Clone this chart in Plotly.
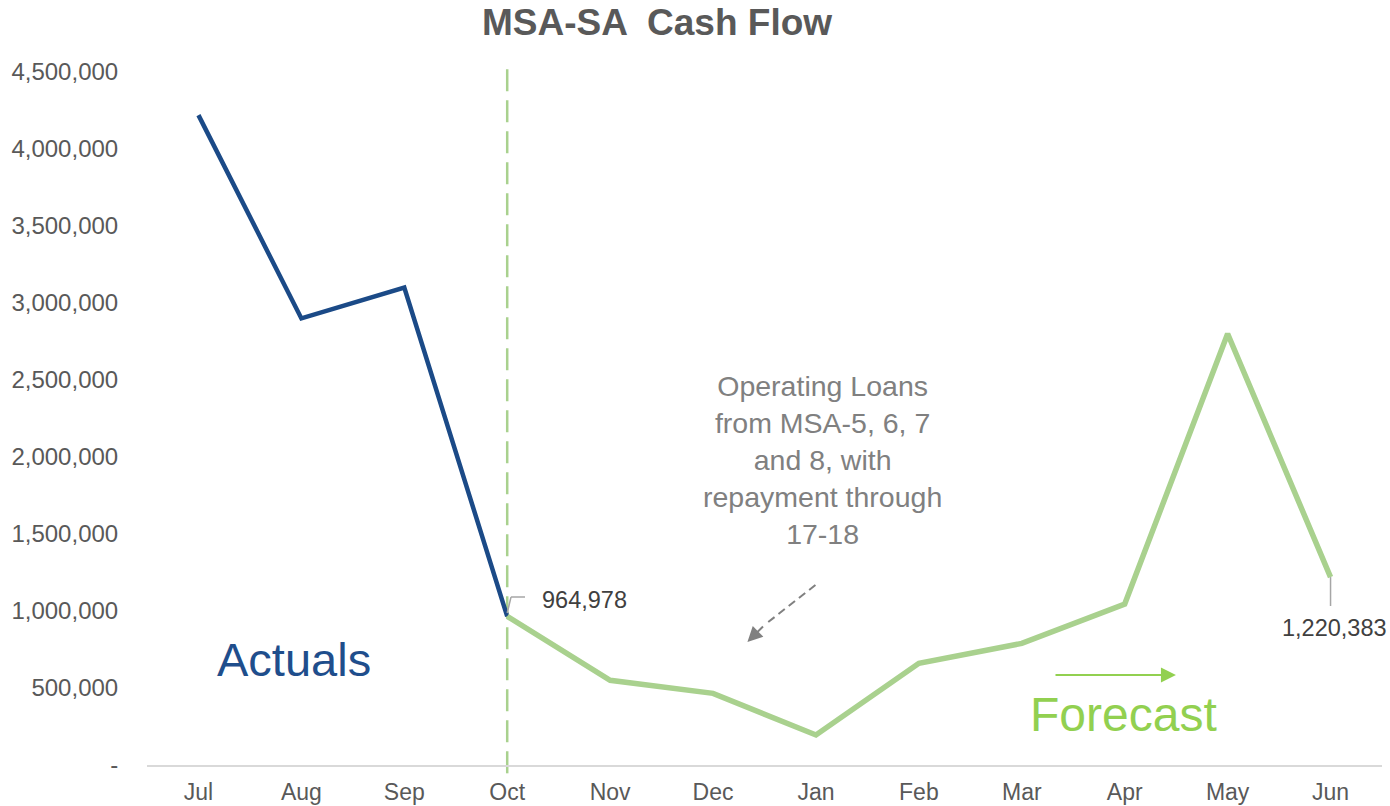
import plotly.graph_objects as go

months = ["Jul", "Aug", "Sep", "Oct", "Nov", "Dec", "Jan", "Feb", "Mar", "Apr", "May", "Jun"]
cash = [4220000, 2900000, 3100000, 964978, 550000, 465000, 195000, 660000, 790000, 1045000, 2800000, 1220383]
actual_n = 4  # Jul..Oct are actuals
tick_vals = [0, 500000, 1000000, 1500000, 2000000, 2500000, 3000000, 3500000, 4000000, 4500000]
tick_text = ["-", "500,000", "1,000,000", "1,500,000", "2,000,000", "2,500,000",
             "3,000,000", "3,500,000", "4,000,000", "4,500,000"]

FONT = "Arial, Liberation Sans, sans-serif"
BLUE = "#1B4A87"
GREEN_LINE = "#A9D18E"
GREEN_TXT = "#92D050"
GREY_TXT = "#808080"

fig = go.Figure()
fig.add_trace(go.Scatter(x=months[:actual_n], y=cash[:actual_n], mode="lines",
                         line=dict(color=BLUE, width=4.5), showlegend=False, hoverinfo="skip"))
fig.add_trace(go.Scatter(x=months[actual_n - 1:], y=cash[actual_n - 1:], mode="lines",
                         line=dict(color=GREEN_LINE, width=5.5), showlegend=False, hoverinfo="skip"))

shapes = [
    # vertical dashed divider at Oct
    dict(type="line", xref="x", yref="paper", x0=3, x1=3, y0=-0.012, y1=1.0144,
         line=dict(color="#A9D18E", width=2.5, dash="22px,9px"), layer="below"),
    # leader line for Oct label
    dict(type="line", xref="x", yref="y", x0=3.0, y0=987000, x1=3.037, y1=1090900,
         line=dict(color="#A6A6A6", width=1.5)),
    dict(type="line", xref="x", yref="y", x0=3.037, y0=1090900, x1=3.173, y1=1090900,
         line=dict(color="#A6A6A6", width=1.5)),
    # leader line for Jun label
    dict(type="line", xref="x", yref="y", x0=11, y0=1220383, x1=11, y1=1032500,
         line=dict(color="#A6A6A6", width=1.5)),
    # dashed grey arrow shaft
    dict(type="line", xref="x", yref="y", x0=5.995, y0=1168830, x1=5.50, y1=909090,
         line=dict(color=GREY_TXT, width=2, dash="8px,5px")),
]

annotations = [
    dict(text="Actuals", x=0.93, y=688300, xref="x", yref="y", showarrow=False,
         font=dict(family=FONT, size=47, color="#1F4E8C"), xanchor="center", yanchor="middle"),
    dict(text="Forecast", x=8.984, y=331200, xref="x", yref="y", showarrow=False,
         font=dict(family=FONT, size=48, color=GREEN_TXT), xanchor="center", yanchor="middle"),
    dict(text="Operating Loans<br>from MSA-5, 6, 7<br>and 8, with<br>repayment through<br>17-18",
         x=6.06, y=1980500, xref="x", yref="y", showarrow=False, align="center",
         font=dict(family=FONT, size=28.5, color=GREY_TXT), xanchor="center", yanchor="middle"),
    dict(text="964,978", x=3.32, y=1071400, xref="x", yref="y", showarrow=False,
         font=dict(family=FONT, size=23.5, color="#404040"), xanchor="left", yanchor="middle"),
    dict(text="1,220,383", x=11.04, y=889600, xref="x", yref="y", showarrow=False,
         font=dict(family=FONT, size=23.5, color="#404040"), xanchor="center", yanchor="middle"),
    # green forecast arrow
    dict(text="", x=9.498, y=584400, ax=8.313, ay=584400, xref="x", yref="y",
         axref="x", ayref="y", showarrow=True, arrowhead=2, arrowsize=1.5,
         arrowwidth=2, arrowcolor=GREEN_TXT, standoff=0),
    # grey arrow head
    dict(text="", x=5.334, y=798700, ax=5.50, ay=909090, xref="x", yref="y",
         axref="x", ayref="y", showarrow=True, arrowhead=2, arrowsize=1.5,
         arrowwidth=2, arrowcolor=GREY_TXT, standoff=0),
]

fig.update_layout(
    width=1390, height=806,
    margin=dict(l=147, r=8, t=72, b=41, autoexpand=False),
    paper_bgcolor="white", plot_bgcolor="white",
    title=dict(text="<b>MSA-SA  Cash Flow</b>", x=657 / 1390, xref="container", xanchor="center",
               y=1 - 22 / 806, yref="container", yanchor="middle",
               font=dict(family=FONT, size=37, color="#595959")),
    shapes=shapes, annotations=annotations,
    showlegend=False,
)
fig.update_xaxes(type="category", range=[-0.5, 11.5], showgrid=False, zeroline=False,
                 showline=True, linecolor="#D9D9D9", linewidth=2, automargin=False,
                 ticks="outside", ticklen=5, tickcolor="rgba(0,0,0,0)",
                 tickfont=dict(family=FONT, size=23, color="#595959"))
fig.update_yaxes(range=[0, 4500000], tickvals=tick_vals, ticktext=tick_text,
                 showgrid=False, zeroline=False, showline=False, automargin=False,
                 ticks="outside", ticklen=23, tickcolor="rgba(0,0,0,0)",
                 tickfont=dict(family=FONT, size=24, color="#595959"))

fig.write_html("out.html", config={"displayModeBar": False},
               post_script="document.body.style.margin='0';")
